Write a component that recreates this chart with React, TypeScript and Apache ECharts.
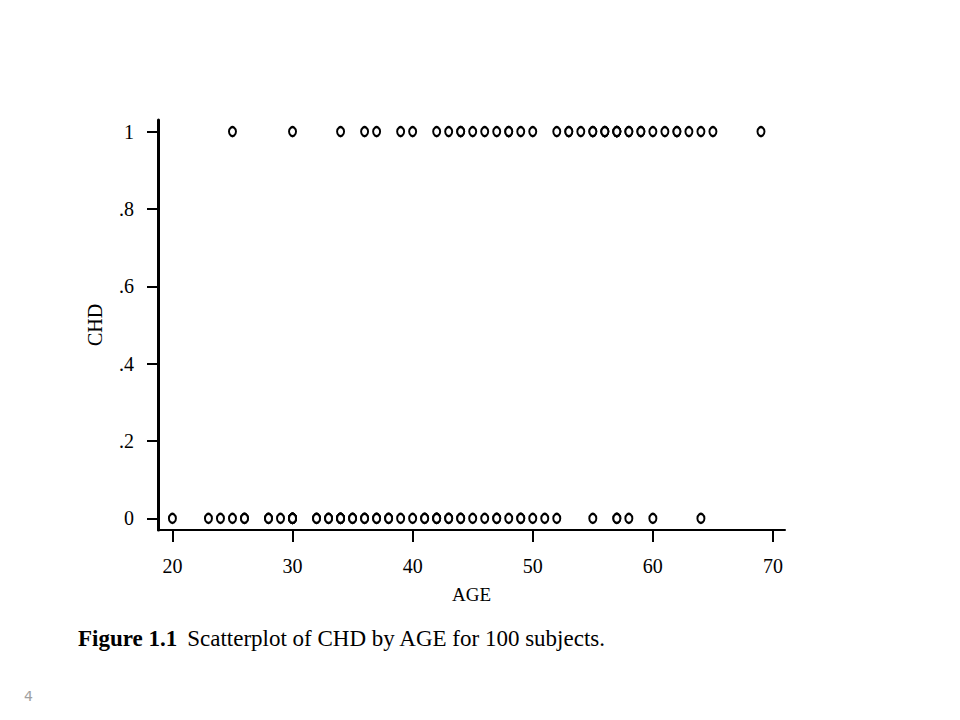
import React, { useEffect, useRef } from "react";
import * as echarts from "echarts";

// CHD by AGE data, 100 subjects
const ages: number[] = [
  20, 23, 24, 25, 25, 26, 26, 28, 28, 29, 30, 30, 30, 30, 30, 30, 32, 32, 33, 33,
  34, 34, 34, 34, 34, 35, 35, 36, 36, 36, 37, 37, 37, 38, 38, 39, 39, 40, 40, 41,
  41, 42, 42, 42, 42, 43, 43, 43, 44, 44, 44, 44, 45, 45, 46, 46, 47, 47, 47, 48,
  48, 48, 49, 49, 49, 50, 50, 51, 52, 52, 53, 53, 54, 55, 55, 55, 56, 56, 56, 57,
  57, 57, 57, 57, 57, 58, 58, 58, 59, 59, 60, 60, 61, 62, 62, 63, 64, 64, 65, 69,
];
const chd: number[] = [
  0, 0, 0, 0, 1, 0, 0, 0, 0, 0, 0, 0, 0, 0, 0, 1, 0, 0, 0, 0,
  0, 0, 1, 0, 0, 0, 0, 0, 1, 0, 0, 1, 0, 0, 0, 0, 1, 0, 1, 0,
  0, 0, 0, 0, 1, 0, 0, 1, 0, 0, 1, 1, 0, 1, 0, 1, 0, 0, 1, 0,
  1, 1, 0, 0, 1, 0, 1, 0, 0, 1, 1, 1, 1, 0, 1, 1, 1, 1, 1, 0,
  0, 1, 1, 1, 1, 0, 1, 1, 1, 1, 0, 1, 1, 1, 1, 1, 0, 1, 1, 1,
];
const xTicks: number[] = [20, 30, 40, 50, 60, 70];
const yTicks: number[] = [0, 0.2, 0.4, 0.6, 0.8, 1];
const yTickLabels: string[] = ["0", ".2", ".4", ".6", ".8", "1"];

const SERIF = "'Liberation Serif', 'DejaVu Serif', serif";

export default function App() {
  const ref = useRef<HTMLDivElement>(null);
  useEffect(() => {
    if (!ref.current) return;
    const chart = echarts.init(ref.current, null, { renderer: "svg" });
    const points = ages.map((a, i) => [a, chd[i]]);
    chart.setOption({
      animation: false,
      backgroundColor: "#ffffff",
      grid: { left: 158, right: 175, top: 120, bottom: 190, containLabel: false },
      xAxis: {
        type: "value",
        min: 18.8,
        max: 71,
        name: "AGE",
        nameLocation: "middle",
        nameGap: 55,
        nameTextStyle: { fontFamily: SERIF, fontSize: 19, color: "#000" },
        axisLine: { show: true, onZero: false, lineStyle: { color: "#000", width: 2 } },
        axisTick: {
          show: true,
          customValues: xTicks,
          length: 12,
          lineStyle: { color: "#000", width: 2 },
        },
        axisLabel: {
          customValues: xTicks,
          margin: 26,
          fontFamily: SERIF,
          fontSize: 20,
          color: "#000",
        },
        splitLine: { show: false },
      },
      yAxis: {
        type: "value",
        min: -0.03,
        max: 1.03,
        name: "CHD",
        nameLocation: "middle",
        nameGap: 53,
        nameRotate: 90,
        nameTextStyle: { fontFamily: SERIF, fontSize: 20, color: "#000" },
        axisLine: { show: true, onZero: false, lineStyle: { color: "#000", width: 3 } },
        axisTick: {
          show: true,
          customValues: yTicks,
          length: 11,
          lineStyle: { color: "#000", width: 2 },
        },
        axisLabel: {
          customValues: yTicks,
          margin: 24,
          fontFamily: SERIF,
          fontSize: 20,
          color: "#000",
          formatter: (v: number) => {
            const idx = yTicks.findIndex((t) => Math.abs(t - v) < 1e-6);
            return idx >= 0 ? yTickLabels[idx] : "";
          },
        },
        splitLine: { show: false },
      },
      series: [
        {
          type: "scatter",
          data: points,
          symbol: "circle",
          symbolSize: [7, 9],
          itemStyle: { color: "#ffffff", borderColor: "#000", borderWidth: 2.2, opacity: 1 },
          emphasis: { disabled: true },
        },
      ],
      graphic: [
        {
          type: "text",
          left: 78,
          top: 627,
          style: {
            text: "{b|Figure 1.1}   {n|Scatterplot of CHD by AGE for 100 subjects.}",
            rich: {
              b: { fontFamily: SERIF, fontSize: 23, fontWeight: "bold", fill: "#000" },
              n: { fontFamily: SERIF, fontSize: 23, fill: "#000" },
            },
          },
        },
        {
          type: "text",
          left: 24,
          top: 689,
          style: {
            text: "4",
            fontFamily: "'DejaVu Sans', sans-serif",
            fontSize: 14,
            fill: "#a0a0a0",
          },
        },
      ],
    });
    return () => chart.dispose();
  }, []);
  return (
    <div
      ref={ref}
      style={{ position: "absolute", left: 0, top: 0, width: 960, height: 720 }}
    />
  );
}
